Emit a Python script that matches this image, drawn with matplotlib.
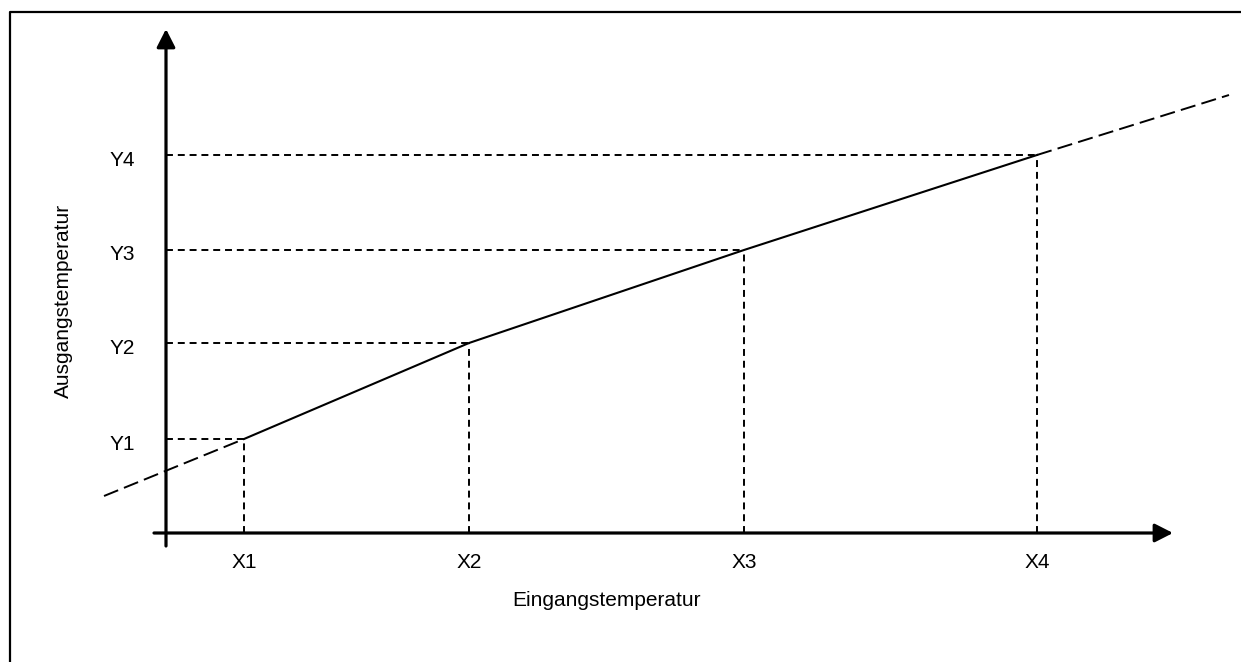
import matplotlib
matplotlib.use("Agg")
import matplotlib.pyplot as plt
from matplotlib.lines import Line2D

# characteristic points (input / output temperature, schematic units)
x_points = [7.8, 30.3, 57.8, 87.1]
y_points = [9.4, 19.0, 28.3, 37.8]
x_labels = ["X1", "X2", "X3", "X4"]
y_labels = ["Y1", "Y2", "Y3", "Y4"]

# dashed extrapolation beyond the first and last point
ext_left = (-6.2, 3.7)
ext_right = (106.3, 43.8)

plt.rcParams['font.family'] = ['Liberation Sans', 'DejaVu Sans']
plt.rcParams['lines.scale_dashes'] = False

fig = plt.figure(figsize=(12.41, 6.62), dpi=100)
ax = fig.add_axes([0, 0, 1, 1])
ax.set_xlim(-16.6, 107.5)
ax.set_ylim(-12.9, 53.3)
ax.axis('off')

# frame (only left and top edge are inside the picture)
fig.add_artist(Line2D([10 / 1241, 10 / 1241, 1.0], [0.0, 1 - 12 / 662, 1 - 12 / 662],
                      color='black', lw=1.6, transform=fig.transFigure))

# axes with arrow heads
arrow = dict(arrowstyle='-|>,head_length=0.55,head_width=0.28', lw=2.3,
             color='black', mutation_scale=20, shrinkA=0, shrinkB=0)
ax.annotate('', xy=(100.7, 0), xytext=(-1.2, 0), arrowprops=arrow)
ax.annotate('', xy=(0, 50.4), xytext=(0, -1.3), arrowprops=arrow)

# helper lines to the axes
for x, y in zip(x_points, y_points):
    ax.plot([0, x], [y, y], color='black', lw=1.4, ls=(0, (5, 3.5)))
    ax.plot([x, x], [0, y], color='black', lw=1.4, ls=(0, (5, 3.5)))

# characteristic curve
ax.plot(x_points, y_points, color='black', lw=1.5)
ax.plot([ext_left[0], x_points[0]], [ext_left[1], y_points[0]],
        color='black', lw=1.4, ls=(0, (11, 4.5)))
ax.plot([x_points[-1], ext_right[0]], [y_points[-1], ext_right[1]],
        color='black', lw=1.4, ls=(0, (11, 4.5)))

# labels
for x, lab in zip(x_points, x_labels):
    ax.text(x, -2.9, lab, ha='center', va='center', fontsize=15)
for y, lab in zip(y_points, y_labels):
    ax.text(-3.1, y - 0.5, lab, ha='right', va='center', fontsize=15)

ax.text(44.0, -6.8, "Eingangstemperatur", ha='center', va='center', fontsize=15)
ax.text(-10.3, 23.2, "Ausgangstemperatur", ha='center', va='center',
        rotation=90, fontsize=15)

fig.savefig("out.png", dpi=100)
